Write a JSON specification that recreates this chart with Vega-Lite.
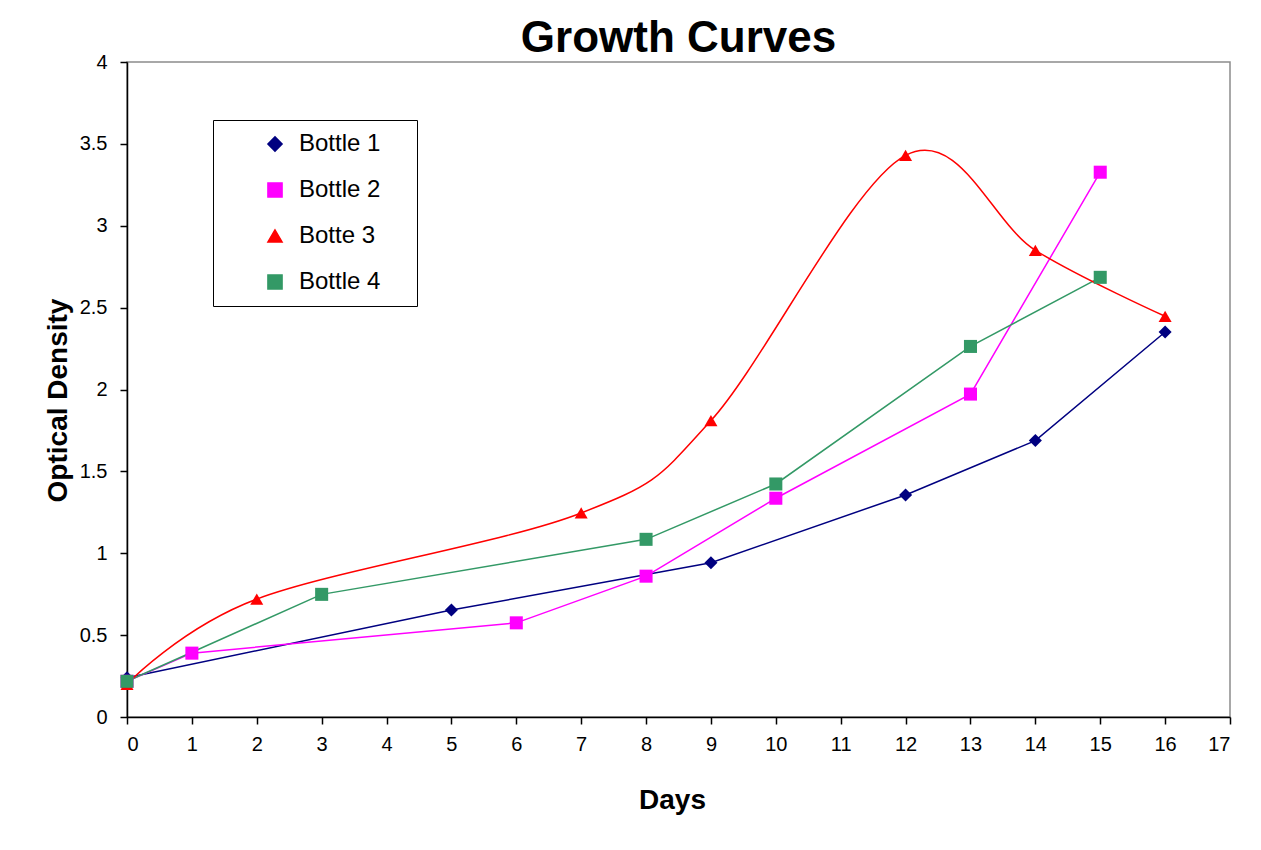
{
  "$schema": "https://vega.github.io/schema/vega-lite/v6.json",
  "width": 1103,
  "height": 655,
  "autosize": {"type": "none"},
  "padding": {"left": 127, "top": 62, "right": 31, "bottom": 133},
  "background": "white",
  "title": {
    "text": "Growth Curves",
    "font": "Liberation Sans",
    "fontSize": 44,
    "fontWeight": "bold",
    "color": "black",
    "anchor": "middle",
    "frame": "group",
    "baseline": "bottom",
    "offset": 2,
    "dy": 55
  },
  "config": {
    "view": {"stroke": "#8c8c8c", "strokeWidth": 1.5},
    "axis": {
      "grid": false,
      "domainColor": "black",
      "domainWidth": 1.5,
      "tickColor": "black",
      "tickWidth": 1.5,
      "tickSize": 7,
      "labelFont": "Liberation Sans",
      "labelFontSize": 20,
      "labelColor": "black",
      "titleFont": "Liberation Sans",
      "titleFontSize": 28,
      "titleFontWeight": "bold",
      "titleColor": "black"
    }
  },
  "data": {
    "values": [
      {"bottle": "Bottle 1", "day": 0, "od": 0.24},
      {"bottle": "Bottle 1", "day": 5, "od": 0.653},
      {"bottle": "Bottle 1", "day": 9, "od": 0.942},
      {"bottle": "Bottle 1", "day": 12, "od": 1.356},
      {"bottle": "Bottle 1", "day": 14, "od": 1.688},
      {"bottle": "Bottle 1", "day": 16, "od": 2.351},
      {"bottle": "Bottle 2", "day": 0, "od": 0.218},
      {"bottle": "Bottle 2", "day": 1, "od": 0.39},
      {"bottle": "Bottle 2", "day": 6, "od": 0.575},
      {"bottle": "Bottle 2", "day": 8, "od": 0.86},
      {"bottle": "Bottle 2", "day": 10, "od": 1.336},
      {"bottle": "Bottle 2", "day": 13, "od": 1.972},
      {"bottle": "Bottle 2", "day": 15, "od": 3.327},
      {"bottle": "Botte 3", "day": 0, "od": 0.2},
      {"bottle": "Botte 3", "day": 2, "od": 0.72},
      {"bottle": "Botte 3", "day": 7, "od": 1.246},
      {"bottle": "Botte 3", "day": 9, "od": 1.81},
      {"bottle": "Botte 3", "day": 12, "od": 3.43},
      {"bottle": "Botte 3", "day": 14, "od": 2.85},
      {"bottle": "Botte 3", "day": 16, "od": 2.447},
      {"bottle": "Bottle 4", "day": 0, "od": 0.218},
      {"bottle": "Bottle 4", "day": 3, "od": 0.749},
      {"bottle": "Bottle 4", "day": 8, "od": 1.085},
      {"bottle": "Bottle 4", "day": 10, "od": 1.423},
      {"bottle": "Bottle 4", "day": 13, "od": 2.263},
      {"bottle": "Bottle 4", "day": 15, "od": 2.685}
    ]
  },
  "encoding": {
    "x": {
      "field": "day",
      "type": "quantitative",
      "scale": {"domain": [0, 17], "nice": false, "zero": false},
      "axis": {
        "title": "Days",
        "values": [0,1,2,3,4,5,6,7,8,9,10,11,12,13,14,15,16,17],
        "labelPadding": 10,
        "titleBaseline": "alphabetic",
        "titleAnchor": null,
        "titleX": 545,
        "titleY": 91
      }
    },
    "y": {
      "field": "od",
      "type": "quantitative",
      "scale": {"domain": [0, 4], "nice": false},
      "axis": {
        "title": "Optical Density",
        "values": [0, 0.5, 1, 1.5, 2, 2.5, 3, 3.5, 4],
        "format": "~g",
        "labelPadding": 13,
        "titleAngle": 270,
        "titleBaseline": "alphabetic",
        "titleAlign": "center",
        "titleX": -61,
        "titleY": 338
      }
    },
    "color": {
      "field": "bottle",
      "type": "nominal",
      "scale": {
        "domain": ["Bottle 1", "Bottle 2", "Botte 3", "Bottle 4"],
        "range": ["#000080", "#FF00FF", "#FF0000", "#339966"]
      },
      "legend": {
        "title": " ",
        "titleOrient": "right",
        "titlePadding": 25,
        "titleFontSize": 24,
        "orient": "none",
        "legendX": 86,
        "legendY": 58,
        "strokeColor": "black",
        "fillColor": "white",
        "padding": 12,
        "rowPadding": 22,
        "symbolSize": 200,
        "symbolOffset": 38,
        "labelOffset": 12,
        "labelFont": "Liberation Sans",
        "labelFontSize": 24,
        "labelColor": "black"
      }
    }
  },
  "layer": [
    {
      "transform": [{"filter": "datum.bottle !== 'Botte 3'"}],
      "mark": {"type": "line", "strokeWidth": 1.5, "interpolate": "linear"},
      "encoding": {"detail": {"field": "bottle"}}
    },
    {
      "transform": [{"filter": "datum.bottle === 'Botte 3'"}],
      "mark": {"type": "line", "strokeWidth": 1.5, "interpolate": "cardinal"},
      "encoding": {"detail": {"field": "bottle"}}
    },
    {
      "mark": {"type": "point", "filled": true, "size": 170, "opacity": 1},
      "encoding": {
        "shape": {
          "field": "bottle",
          "type": "nominal",
          "legend": null,
          "scale": {
            "domain": ["Bottle 1", "Bottle 2", "Botte 3", "Bottle 4"],
            "range": ["diamond", "square", "triangle-up", "square"]
          }
        }
      }
    }
  ]
}
